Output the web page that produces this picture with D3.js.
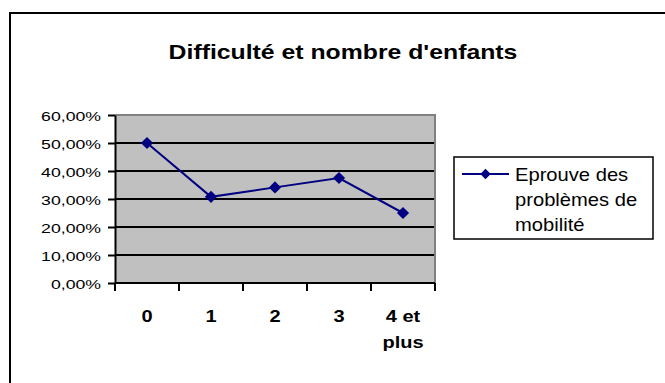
<!DOCTYPE html>
<html>
<head>
<meta charset="utf-8">
<script src="https://cdn.jsdelivr.net/npm/d3@7"></script>
<style>
  html, body { margin: 0; padding: 0; background: #fff; }
  svg { display: block; font-family: "Liberation Sans", Arial, sans-serif; }
</style>
</head>
<body>
<svg id="chart" width="665" height="383"></svg>
<script>
// Share of respondents reporting mobility problems, by number of children
const categories = ["0", "1", "2", "3", "4 et plus"];
const values = [0.50, 0.3077, 0.3415, 0.375, 0.25];
const seriesName = ["Eprouve des", "problèmes de", "mobilité"];
const yTicks = [0, 0.1, 0.2, 0.3, 0.4, 0.5, 0.6];
const title = "Difficulté et nombre d'enfants";

const svg = d3.select("#chart");
const plot = { left: 115, right: 435, top: 115, bottom: 283 };
const navy = "#000080";

// Place a text at (x, y) with a horizontal widening factor
function placeWide(sel, x, y, sx) {
  sel.attr("x", 0).attr("y", 0)
     .attr("transform", `translate(${x},${y}) scale(${sx},1)`);
}

// Outer chart frame
svg.append("rect")
  .attr("x", 10).attr("y", 13)
  .attr("width", 700).attr("height", 400)
  .attr("fill", "#fff").attr("stroke", "#000").attr("stroke-width", 2);

// Title
svg.append("text")
  .attr("text-anchor", "middle")
  .attr("font-size", 20).attr("font-weight", "bold")
  .text(title)
  .call(placeWide, 343, 59, 1.24);

const x = d3.scaleBand().domain(categories).range([plot.left, plot.right]);
const y = d3.scaleLinear().domain([0, 0.6]).range([plot.bottom, plot.top]);

// Plot background
svg.append("rect")
  .attr("x", plot.left).attr("y", plot.top)
  .attr("width", plot.right - plot.left).attr("height", plot.bottom - plot.top)
  .attr("fill", "#c0c0c0");

// Horizontal gridlines
svg.append("g").selectAll("line")
  .data(yTicks.filter(t => t > 0 && t < 0.6))
  .join("line")
  .attr("x1", plot.left).attr("x2", plot.right)
  .attr("y1", d => y(d)).attr("y2", d => y(d))
  .attr("stroke", "#000").attr("stroke-width", 2);

// Gray plot border on top and right
svg.append("path")
  .attr("d", `M${plot.left},${plot.top}H${plot.right}V${plot.bottom}`)
  .attr("fill", "none").attr("stroke", "#808080").attr("stroke-width", 2);

// Y axis
const fmtPct = d => (d * 100).toFixed(2).replace(".", ",") + "%";
const yAxis = svg.append("g")
  .attr("transform", `translate(${plot.left},0)`)
  .call(d3.axisLeft(y).tickValues(yTicks).tickFormat(fmtPct).tickSize(7).tickSizeOuter(0));
yAxis.select(".domain").attr("stroke", "#000").attr("stroke-width", 2);
yAxis.selectAll(".tick line").attr("stroke", "#000").attr("stroke-width", 2);
yAxis.selectAll(".tick text")
  .attr("font-size", 13).attr("font-family", "Liberation Sans, Arial, sans-serif")
  .attr("fill", "#000").attr("dy", null)
  .each(function() { placeWide(d3.select(this), -14, 5, 1.36); });

// X axis: ticks on category boundaries
const xAxisG = svg.append("g").attr("transform", `translate(0,${plot.bottom})`);
xAxisG.append("line")
  .attr("x1", plot.left).attr("x2", plot.right)
  .attr("stroke", "#000").attr("stroke-width", 2);
const bounds = categories.map(c => x(c)).concat([x(categories[categories.length - 1]) + x.bandwidth()]);
xAxisG.selectAll("line.tick")
  .data(bounds)
  .join("line").attr("class", "tick")
  .attr("x1", d => d).attr("x2", d => d)
  .attr("y1", 0).attr("y2", 8)
  .attr("stroke", "#000").attr("stroke-width", 2);

// X category labels (wrapped)
const xLabels = [["0"], ["1"], ["2"], ["3"], ["4 et", "plus"]];
categories.forEach((c, i) => {
  const cx = x(c) + x.bandwidth() / 2;
  xLabels[i].forEach((lineText, j) => {
    xAxisG.append("text")
      .attr("text-anchor", "middle")
      .attr("font-size", 16).attr("font-weight", "bold")
      .text(lineText)
      .call(placeWide, cx, 39 + j * 26, 1.25);
  });
});

// Series line
const line = d3.line()
  .x((d, i) => x(categories[i]) + x.bandwidth() / 2)
  .y(d => y(d));
svg.append("path")
  .datum(values)
  .attr("d", line)
  .attr("fill", "none").attr("stroke", navy).attr("stroke-width", 2);

const diamond = d3.symbol().type(d3.symbolDiamond2).size(95);
svg.append("g").selectAll("path")
  .data(values)
  .join("path")
  .attr("d", diamond)
  .attr("transform", (d, i) => `translate(${x(categories[i]) + x.bandwidth() / 2},${y(d)})`)
  .attr("fill", navy);

// Legend
const lg = svg.append("g");
lg.append("rect")
  .attr("x", 454).attr("y", 157).attr("width", 199).attr("height", 82)
  .attr("fill", "#fff").attr("stroke", "#000").attr("stroke-width", 1.5);
lg.append("line")
  .attr("x1", 462).attr("x2", 509).attr("y1", 174).attr("y2", 174)
  .attr("stroke", navy).attr("stroke-width", 2);
lg.append("path")
  .attr("d", d3.symbol().type(d3.symbolDiamond2).size(70))
  .attr("transform", "translate(485.5,174)")
  .attr("fill", navy);
seriesName.forEach((s, i) => {
  lg.append("text")
    .attr("font-size", 18)
    .text(s)
    .call(placeWide, 515, 180.5 + i * 25, 1.12);
});
</script>
</body>
</html>
